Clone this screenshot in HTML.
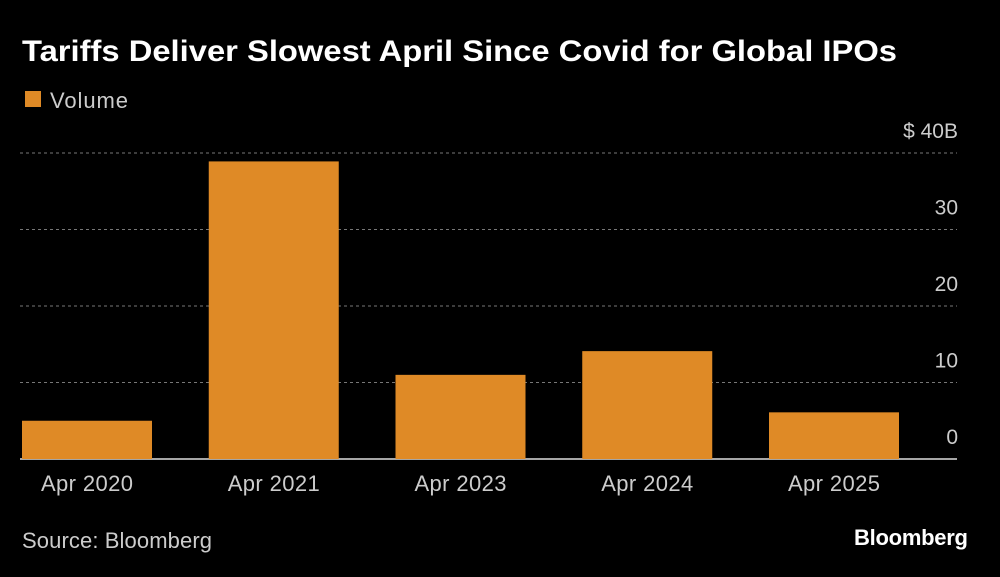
<!DOCTYPE html>
<html><head><meta charset="utf-8"><style>
body{margin:0;background:#000;width:1000px;height:572px;overflow:hidden;font-family:"Liberation Sans",sans-serif;color:#fff}
</style></head><body>
<svg width="1000" height="572" xmlns="http://www.w3.org/2000/svg" id="chart">
<text x="22" y="61" font-size="30" font-weight="bold" fill="#fff" textLength="875" lengthAdjust="spacingAndGlyphs">Tariffs Deliver Slowest April Since Covid for Global IPOs</text>
<rect x="25" y="91" width="16" height="16" fill="#df8a26"/>
<text x="50" y="108" font-size="22" fill="#ccc" textLength="78">Volume</text>
<g id="grid"></g><g id="bars"></g><g id="labels"></g>
<text x="22" y="548" font-size="22" fill="#ccc" textLength="190">Source: Bloomberg</text>
<text x="968" y="545" font-size="22" font-weight="bold" fill="#fff" text-anchor="end" textLength="114">Bloomberg</text>
</svg>
<script>
const categories=["Apr 2020","Apr 2021","Apr 2023","Apr 2024","Apr 2025"];
const values=[5.0,38.9,11.0,14.1,6.1];
const ticks=[0,10,20,30,40];
const tickLabels=["0","10","20","30","$ 40B"];
const NS="http://www.w3.org/2000/svg";
const y=v=>459-v*7.65;
const x=i=>22+i*186.75;
const bw=130;
function mk(t,a,p){const e=document.createElementNS(NS,t);for(const k in a)e.setAttribute(k,a[k]);p.appendChild(e);return e;}
const g=document.getElementById('grid'),b=document.getElementById('bars'),l=document.getElementById('labels');
ticks.forEach((t,i)=>{
 let ln;
 if(t===0) ln=mk('line',{x1:20,x2:957,y1:y(t),y2:y(t),stroke:'#ddd','stroke-width':1.5},g);
 else ln=mk('line',{x1:20,x2:957,y1:y(t),y2:y(t),stroke:'#777','stroke-width':1,'stroke-dasharray':'3,3'},g);
 
 
 const tx=mk('text',{x:958,y:y(t)-15,'font-size':21,fill:'#ccc','text-anchor':'end'},l);
 tx.textContent=tickLabels[i];
 
 
});
categories.forEach((c,i)=>{
 const r=mk('rect',{x:x(i),y:y(values[i]),width:bw,height:y(0)-y(values[i]),fill:'#df8a26'},b);
 
 
 const tx=mk('text',{x:x(i)+bw/2,y:491,'font-size':22,fill:'#ccc','text-anchor':'middle',textLength:92},l);
 tx.textContent=c;
 
 
});
</script>
</body></html>
